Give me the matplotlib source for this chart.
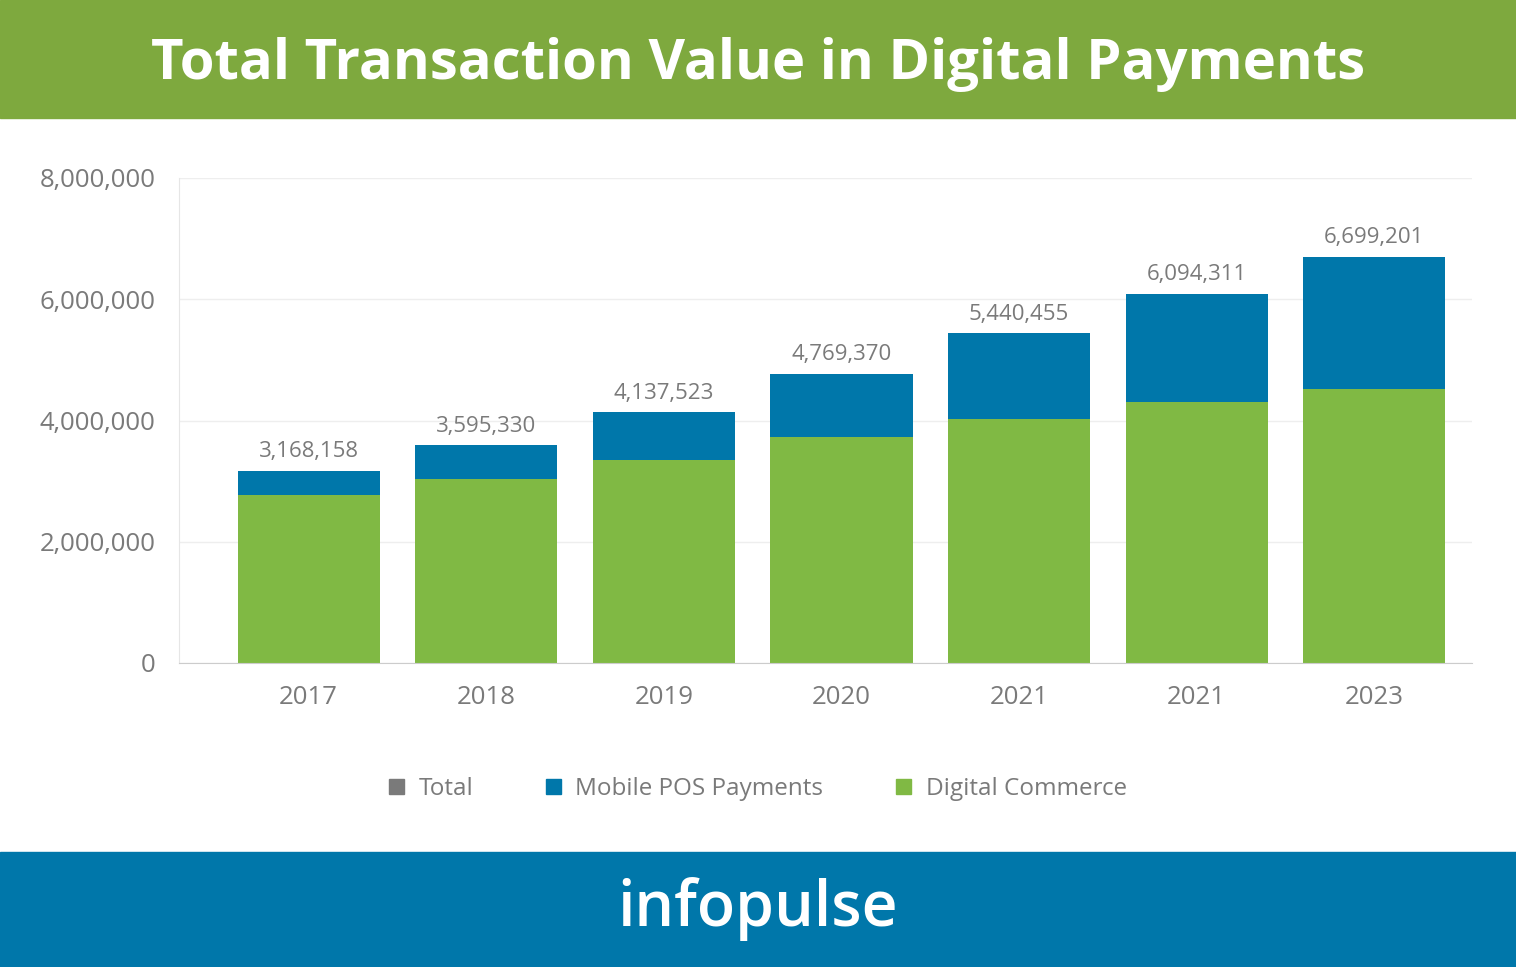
import matplotlib as mpl
import matplotlib.pyplot as plt
from matplotlib.ticker import FuncFormatter
from matplotlib.patches import Rectangle

mpl.rc('font', family='Open Sans')

years = ['2017', '2018', '2019', '2020', '2021', '2021', '2023']
totals = [3168158, 3595330, 4137523, 4769370, 5440455, 6094311, 6699201]
digital = [2770000, 3040000, 3350000, 3730000, 4030000, 4310000, 4520000]
mobile = [t - d for t, d in zip(totals, digital)]

green = '#80b944'
blue = '#0077aa'
grey = '#7a7a7a'

W, H = 1516, 967
fig = plt.figure(figsize=(W / 100, H / 100), dpi=100)

# header and footer bands
fig.patches.append(Rectangle((0, 1 - 118 / H), 1, 118 / H, transform=fig.transFigure, color='#7ea93e', zorder=0))
fig.patches.append(Rectangle((0, 0), 1, 115 / H, transform=fig.transFigure, color=blue, zorder=0))
fig.text(0.5, 1 - 64 / H, 'Total Transaction Value in Digital Payments', ha='center', va='center',
         color='white', fontsize=40.5, fontweight='bold')
fig.text(0.5, 58 / H, 'infopulse', ha='center', va='center', color='white', fontsize=45,
         fontweight='semibold')

ax = fig.add_axes([179 / W, 1 - 663 / H, (1472 - 179) / W, (663 - 178) / H])
x = range(len(years))
ax.bar(x, digital, width=0.8, color=green, label='Digital Commerce', zorder=2)
ax.bar(x, mobile, bottom=digital, width=0.8, color=blue, label='Mobile POS Payments', zorder=2)
for i, t in enumerate(totals):
    ax.text(i, t + 140000, f'{t:,}', ha='center', va='bottom', color=grey, fontsize=16)

ax.set_ylim(0, 8000000)
ax.set_xlim(-0.73, 6.55)
ax.set_yticks([0, 2000000, 4000000, 6000000, 8000000])
ax.yaxis.set_major_formatter(FuncFormatter(lambda v, p: f'{int(v):,}'))
ax.set_xticks(list(x))
ax.set_xticklabels(years)
ax.tick_params(axis='both', length=0, labelsize=18.5, labelcolor=grey)
ax.tick_params(axis='x', pad=16)
ax.tick_params(axis='y', pad=17)
ax.grid(axis='y', color='#eeeeee', lw=1, zorder=0)
for s in ['top', 'right']:
    ax.spines[s].set_visible(False)
ax.spines['left'].set_color('#e6e6e6')
ax.spines['bottom'].set_color('#cccccc')

h_total = Rectangle((0, 0), 1, 1, color=grey)
h_mob = Rectangle((0, 0), 1, 1, color=blue)
h_dig = Rectangle((0, 0), 1, 1, color=green)
fig.legend([h_total, h_mob, h_dig], ['Total', 'Mobile POS Payments', 'Digital Commerce'],
           loc='center', bbox_to_anchor=(0.5, 1 - 789 / H), ncol=3, frameon=False,
           fontsize=17.5, labelcolor=grey, handlelength=0.6, handleheight=0.6,
           columnspacing=3.0, handletextpad=0.6)

plt.savefig('out.png', dpi=100)
